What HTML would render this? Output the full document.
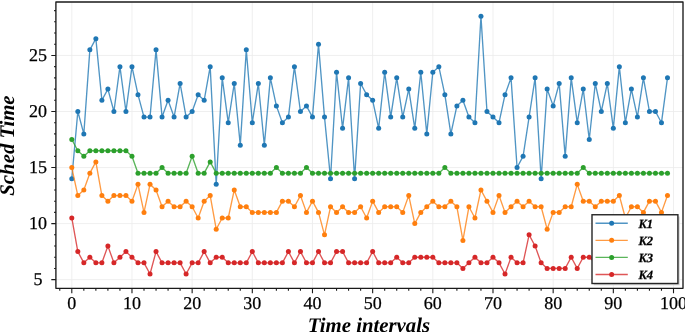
<!DOCTYPE html>
<html><head><meta charset="utf-8"><style>
html,body{margin:0;padding:0;background:#fff;}
body{width:685px;height:332px;overflow:hidden;}
svg{display:block;text-rendering:geometricPrecision;font-family:"Liberation Serif","Times New Roman",serif;fill:#000;}
svg text{fill:#000;}
.tl{stroke:#000;stroke-width:0.25px;}
</style></head><body>
<svg width="685" height="332" viewBox="0 0 685 332">
<rect width="685" height="332" fill="#fff"/>
<defs><clipPath id="c"><rect x="55.9" y="1.95" width="627.1" height="286.40000000000003"/></clipPath></defs>
<path d="M71.80 1.95V288.35M131.97 1.95V288.35M192.14 1.95V288.35M252.31 1.95V288.35M312.48 1.95V288.35M372.65 1.95V288.35M432.82 1.95V288.35M492.99 1.95V288.35M553.16 1.95V288.35M613.33 1.95V288.35M673.50 1.95V288.35M55.9 279.65H683.0M55.9 223.60H683.0M55.9 167.55H683.0M55.9 111.50H683.0M55.9 55.45H683.0" stroke="#ebebeb" stroke-width="0.8" fill="none"/>
<g clip-path="url(#c)">
<polyline points="71.80,178.76 77.82,111.50 83.83,133.92 89.85,49.84 95.87,38.63 101.88,100.29 107.90,89.08 113.92,111.50 119.94,66.66 125.95,111.50 131.97,66.66 137.99,94.68 144.00,117.10 150.02,117.10 156.04,49.84 162.06,117.10 168.07,100.29 174.09,117.10 180.11,83.47 186.12,117.10 192.14,111.50 198.16,94.68 204.17,100.29 210.19,66.66 216.21,184.36 222.23,77.87 228.24,122.71 234.26,83.47 240.28,145.13 246.29,49.84 252.31,122.71 258.33,83.47 264.34,145.13 270.36,77.87 276.38,105.89 282.39,122.71 288.41,117.10 294.43,66.66 300.45,111.50 306.46,105.89 312.48,117.10 318.50,44.24 324.51,117.10 330.53,178.76 336.55,72.26 342.57,128.31 348.58,77.87 354.60,178.76 360.62,83.47 366.63,94.68 372.65,100.29 378.67,128.31 384.68,72.26 390.70,117.10 396.72,77.87 402.74,117.10 408.75,89.08 414.77,128.31 420.79,72.26 426.80,133.92 432.82,72.26 438.84,66.66 444.85,94.68 450.87,133.92 456.89,105.89 462.91,100.29 468.92,117.10 474.94,122.71 480.96,16.21 486.97,111.50 492.99,117.10 499.01,122.71 505.02,94.68 511.04,77.87 517.06,167.55 523.08,156.34 529.09,117.10 535.11,77.87 541.13,178.76 547.14,89.08 553.16,105.89 559.18,83.47 565.19,156.34 571.21,77.87 577.23,122.71 583.25,89.08 589.26,139.52 595.28,83.47 601.30,111.50 607.31,83.47 613.33,128.31 619.35,66.66 625.36,122.71 631.38,89.08 637.40,117.10 643.41,77.87 649.43,111.50 655.45,111.50 661.47,122.71 667.48,77.87" fill="none" stroke="#1f77b4" stroke-width="1.35" stroke-opacity="0.78" stroke-linejoin="round"/>
<g fill="#1f77b4"><circle cx="71.80" cy="178.76" r="2.5"/><circle cx="77.82" cy="111.50" r="2.5"/><circle cx="83.83" cy="133.92" r="2.5"/><circle cx="89.85" cy="49.84" r="2.5"/><circle cx="95.87" cy="38.63" r="2.5"/><circle cx="101.88" cy="100.29" r="2.5"/><circle cx="107.90" cy="89.08" r="2.5"/><circle cx="113.92" cy="111.50" r="2.5"/><circle cx="119.94" cy="66.66" r="2.5"/><circle cx="125.95" cy="111.50" r="2.5"/><circle cx="131.97" cy="66.66" r="2.5"/><circle cx="137.99" cy="94.68" r="2.5"/><circle cx="144.00" cy="117.10" r="2.5"/><circle cx="150.02" cy="117.10" r="2.5"/><circle cx="156.04" cy="49.84" r="2.5"/><circle cx="162.06" cy="117.10" r="2.5"/><circle cx="168.07" cy="100.29" r="2.5"/><circle cx="174.09" cy="117.10" r="2.5"/><circle cx="180.11" cy="83.47" r="2.5"/><circle cx="186.12" cy="117.10" r="2.5"/><circle cx="192.14" cy="111.50" r="2.5"/><circle cx="198.16" cy="94.68" r="2.5"/><circle cx="204.17" cy="100.29" r="2.5"/><circle cx="210.19" cy="66.66" r="2.5"/><circle cx="216.21" cy="184.36" r="2.5"/><circle cx="222.23" cy="77.87" r="2.5"/><circle cx="228.24" cy="122.71" r="2.5"/><circle cx="234.26" cy="83.47" r="2.5"/><circle cx="240.28" cy="145.13" r="2.5"/><circle cx="246.29" cy="49.84" r="2.5"/><circle cx="252.31" cy="122.71" r="2.5"/><circle cx="258.33" cy="83.47" r="2.5"/><circle cx="264.34" cy="145.13" r="2.5"/><circle cx="270.36" cy="77.87" r="2.5"/><circle cx="276.38" cy="105.89" r="2.5"/><circle cx="282.39" cy="122.71" r="2.5"/><circle cx="288.41" cy="117.10" r="2.5"/><circle cx="294.43" cy="66.66" r="2.5"/><circle cx="300.45" cy="111.50" r="2.5"/><circle cx="306.46" cy="105.89" r="2.5"/><circle cx="312.48" cy="117.10" r="2.5"/><circle cx="318.50" cy="44.24" r="2.5"/><circle cx="324.51" cy="117.10" r="2.5"/><circle cx="330.53" cy="178.76" r="2.5"/><circle cx="336.55" cy="72.26" r="2.5"/><circle cx="342.57" cy="128.31" r="2.5"/><circle cx="348.58" cy="77.87" r="2.5"/><circle cx="354.60" cy="178.76" r="2.5"/><circle cx="360.62" cy="83.47" r="2.5"/><circle cx="366.63" cy="94.68" r="2.5"/><circle cx="372.65" cy="100.29" r="2.5"/><circle cx="378.67" cy="128.31" r="2.5"/><circle cx="384.68" cy="72.26" r="2.5"/><circle cx="390.70" cy="117.10" r="2.5"/><circle cx="396.72" cy="77.87" r="2.5"/><circle cx="402.74" cy="117.10" r="2.5"/><circle cx="408.75" cy="89.08" r="2.5"/><circle cx="414.77" cy="128.31" r="2.5"/><circle cx="420.79" cy="72.26" r="2.5"/><circle cx="426.80" cy="133.92" r="2.5"/><circle cx="432.82" cy="72.26" r="2.5"/><circle cx="438.84" cy="66.66" r="2.5"/><circle cx="444.85" cy="94.68" r="2.5"/><circle cx="450.87" cy="133.92" r="2.5"/><circle cx="456.89" cy="105.89" r="2.5"/><circle cx="462.91" cy="100.29" r="2.5"/><circle cx="468.92" cy="117.10" r="2.5"/><circle cx="474.94" cy="122.71" r="2.5"/><circle cx="480.96" cy="16.21" r="2.5"/><circle cx="486.97" cy="111.50" r="2.5"/><circle cx="492.99" cy="117.10" r="2.5"/><circle cx="499.01" cy="122.71" r="2.5"/><circle cx="505.02" cy="94.68" r="2.5"/><circle cx="511.04" cy="77.87" r="2.5"/><circle cx="517.06" cy="167.55" r="2.5"/><circle cx="523.08" cy="156.34" r="2.5"/><circle cx="529.09" cy="117.10" r="2.5"/><circle cx="535.11" cy="77.87" r="2.5"/><circle cx="541.13" cy="178.76" r="2.5"/><circle cx="547.14" cy="89.08" r="2.5"/><circle cx="553.16" cy="105.89" r="2.5"/><circle cx="559.18" cy="83.47" r="2.5"/><circle cx="565.19" cy="156.34" r="2.5"/><circle cx="571.21" cy="77.87" r="2.5"/><circle cx="577.23" cy="122.71" r="2.5"/><circle cx="583.25" cy="89.08" r="2.5"/><circle cx="589.26" cy="139.52" r="2.5"/><circle cx="595.28" cy="83.47" r="2.5"/><circle cx="601.30" cy="111.50" r="2.5"/><circle cx="607.31" cy="83.47" r="2.5"/><circle cx="613.33" cy="128.31" r="2.5"/><circle cx="619.35" cy="66.66" r="2.5"/><circle cx="625.36" cy="122.71" r="2.5"/><circle cx="631.38" cy="89.08" r="2.5"/><circle cx="637.40" cy="117.10" r="2.5"/><circle cx="643.41" cy="77.87" r="2.5"/><circle cx="649.43" cy="111.50" r="2.5"/><circle cx="655.45" cy="111.50" r="2.5"/><circle cx="661.47" cy="122.71" r="2.5"/><circle cx="667.48" cy="77.87" r="2.5"/></g>
<polyline points="71.80,167.55 77.82,195.57 83.83,189.97 89.85,173.15 95.87,161.94 101.88,195.57 107.90,201.18 113.92,195.57 119.94,195.57 125.95,195.57 131.97,201.18 137.99,184.36 144.00,212.39 150.02,184.36 156.04,189.97 162.06,206.78 168.07,201.18 174.09,206.78 180.11,206.78 186.12,201.18 192.14,206.78 198.16,217.99 204.17,201.18 210.19,195.57 216.21,229.20 222.23,217.99 228.24,217.99 234.26,189.97 240.28,206.78 246.29,206.78 252.31,212.39 258.33,212.39 264.34,212.39 270.36,212.39 276.38,212.39 282.39,201.18 288.41,201.18 294.43,206.78 300.45,195.57 306.46,212.39 312.48,201.18 318.50,212.39 324.51,234.81 330.53,206.78 336.55,212.39 342.57,206.78 348.58,212.39 354.60,212.39 360.62,206.78 366.63,217.99 372.65,201.18 378.67,212.39 384.68,206.78 390.70,206.78 396.72,206.78 402.74,212.39 408.75,195.57 414.77,223.60 420.79,212.39 426.80,206.78 432.82,201.18 438.84,206.78 444.85,206.78 450.87,201.18 456.89,206.78 462.91,240.41 468.92,206.78 474.94,217.99 480.96,189.97 486.97,201.18 492.99,212.39 499.01,195.57 505.02,212.39 511.04,206.78 517.06,201.18 523.08,206.78 529.09,201.18 535.11,206.78 541.13,206.78 547.14,229.20 553.16,212.39 559.18,212.39 565.19,206.78 571.21,206.78 577.23,184.36 583.25,201.18 589.26,201.18 595.28,206.78 601.30,201.18 607.31,201.18 613.33,201.18 619.35,195.57 625.36,217.99 631.38,206.78 637.40,206.78 643.41,212.39 649.43,201.18 655.45,201.18 661.47,212.39 667.48,195.57" fill="none" stroke="#ff7f0e" stroke-width="1.35" stroke-opacity="0.78" stroke-linejoin="round"/>
<g fill="#ff7f0e"><circle cx="71.80" cy="167.55" r="2.5"/><circle cx="77.82" cy="195.57" r="2.5"/><circle cx="83.83" cy="189.97" r="2.5"/><circle cx="89.85" cy="173.15" r="2.5"/><circle cx="95.87" cy="161.94" r="2.5"/><circle cx="101.88" cy="195.57" r="2.5"/><circle cx="107.90" cy="201.18" r="2.5"/><circle cx="113.92" cy="195.57" r="2.5"/><circle cx="119.94" cy="195.57" r="2.5"/><circle cx="125.95" cy="195.57" r="2.5"/><circle cx="131.97" cy="201.18" r="2.5"/><circle cx="137.99" cy="184.36" r="2.5"/><circle cx="144.00" cy="212.39" r="2.5"/><circle cx="150.02" cy="184.36" r="2.5"/><circle cx="156.04" cy="189.97" r="2.5"/><circle cx="162.06" cy="206.78" r="2.5"/><circle cx="168.07" cy="201.18" r="2.5"/><circle cx="174.09" cy="206.78" r="2.5"/><circle cx="180.11" cy="206.78" r="2.5"/><circle cx="186.12" cy="201.18" r="2.5"/><circle cx="192.14" cy="206.78" r="2.5"/><circle cx="198.16" cy="217.99" r="2.5"/><circle cx="204.17" cy="201.18" r="2.5"/><circle cx="210.19" cy="195.57" r="2.5"/><circle cx="216.21" cy="229.20" r="2.5"/><circle cx="222.23" cy="217.99" r="2.5"/><circle cx="228.24" cy="217.99" r="2.5"/><circle cx="234.26" cy="189.97" r="2.5"/><circle cx="240.28" cy="206.78" r="2.5"/><circle cx="246.29" cy="206.78" r="2.5"/><circle cx="252.31" cy="212.39" r="2.5"/><circle cx="258.33" cy="212.39" r="2.5"/><circle cx="264.34" cy="212.39" r="2.5"/><circle cx="270.36" cy="212.39" r="2.5"/><circle cx="276.38" cy="212.39" r="2.5"/><circle cx="282.39" cy="201.18" r="2.5"/><circle cx="288.41" cy="201.18" r="2.5"/><circle cx="294.43" cy="206.78" r="2.5"/><circle cx="300.45" cy="195.57" r="2.5"/><circle cx="306.46" cy="212.39" r="2.5"/><circle cx="312.48" cy="201.18" r="2.5"/><circle cx="318.50" cy="212.39" r="2.5"/><circle cx="324.51" cy="234.81" r="2.5"/><circle cx="330.53" cy="206.78" r="2.5"/><circle cx="336.55" cy="212.39" r="2.5"/><circle cx="342.57" cy="206.78" r="2.5"/><circle cx="348.58" cy="212.39" r="2.5"/><circle cx="354.60" cy="212.39" r="2.5"/><circle cx="360.62" cy="206.78" r="2.5"/><circle cx="366.63" cy="217.99" r="2.5"/><circle cx="372.65" cy="201.18" r="2.5"/><circle cx="378.67" cy="212.39" r="2.5"/><circle cx="384.68" cy="206.78" r="2.5"/><circle cx="390.70" cy="206.78" r="2.5"/><circle cx="396.72" cy="206.78" r="2.5"/><circle cx="402.74" cy="212.39" r="2.5"/><circle cx="408.75" cy="195.57" r="2.5"/><circle cx="414.77" cy="223.60" r="2.5"/><circle cx="420.79" cy="212.39" r="2.5"/><circle cx="426.80" cy="206.78" r="2.5"/><circle cx="432.82" cy="201.18" r="2.5"/><circle cx="438.84" cy="206.78" r="2.5"/><circle cx="444.85" cy="206.78" r="2.5"/><circle cx="450.87" cy="201.18" r="2.5"/><circle cx="456.89" cy="206.78" r="2.5"/><circle cx="462.91" cy="240.41" r="2.5"/><circle cx="468.92" cy="206.78" r="2.5"/><circle cx="474.94" cy="217.99" r="2.5"/><circle cx="480.96" cy="189.97" r="2.5"/><circle cx="486.97" cy="201.18" r="2.5"/><circle cx="492.99" cy="212.39" r="2.5"/><circle cx="499.01" cy="195.57" r="2.5"/><circle cx="505.02" cy="212.39" r="2.5"/><circle cx="511.04" cy="206.78" r="2.5"/><circle cx="517.06" cy="201.18" r="2.5"/><circle cx="523.08" cy="206.78" r="2.5"/><circle cx="529.09" cy="201.18" r="2.5"/><circle cx="535.11" cy="206.78" r="2.5"/><circle cx="541.13" cy="206.78" r="2.5"/><circle cx="547.14" cy="229.20" r="2.5"/><circle cx="553.16" cy="212.39" r="2.5"/><circle cx="559.18" cy="212.39" r="2.5"/><circle cx="565.19" cy="206.78" r="2.5"/><circle cx="571.21" cy="206.78" r="2.5"/><circle cx="577.23" cy="184.36" r="2.5"/><circle cx="583.25" cy="201.18" r="2.5"/><circle cx="589.26" cy="201.18" r="2.5"/><circle cx="595.28" cy="206.78" r="2.5"/><circle cx="601.30" cy="201.18" r="2.5"/><circle cx="607.31" cy="201.18" r="2.5"/><circle cx="613.33" cy="201.18" r="2.5"/><circle cx="619.35" cy="195.57" r="2.5"/><circle cx="625.36" cy="217.99" r="2.5"/><circle cx="631.38" cy="206.78" r="2.5"/><circle cx="637.40" cy="206.78" r="2.5"/><circle cx="643.41" cy="212.39" r="2.5"/><circle cx="649.43" cy="201.18" r="2.5"/><circle cx="655.45" cy="201.18" r="2.5"/><circle cx="661.47" cy="212.39" r="2.5"/><circle cx="667.48" cy="195.57" r="2.5"/></g>
<polyline points="71.80,139.52 77.82,150.73 83.83,156.34 89.85,150.73 95.87,150.73 101.88,150.73 107.90,150.73 113.92,150.73 119.94,150.73 125.95,150.73 131.97,156.34 137.99,173.15 144.00,173.15 150.02,173.15 156.04,173.15 162.06,167.55 168.07,173.15 174.09,173.15 180.11,173.15 186.12,173.15 192.14,156.34 198.16,173.15 204.17,173.15 210.19,161.94 216.21,173.15 222.23,173.15 228.24,173.15 234.26,173.15 240.28,173.15 246.29,173.15 252.31,173.15 258.33,173.15 264.34,173.15 270.36,173.15 276.38,167.55 282.39,173.15 288.41,173.15 294.43,173.15 300.45,173.15 306.46,167.55 312.48,173.15 318.50,173.15 324.51,173.15 330.53,173.15 336.55,173.15 342.57,173.15 348.58,173.15 354.60,173.15 360.62,173.15 366.63,173.15 372.65,173.15 378.67,173.15 384.68,173.15 390.70,173.15 396.72,173.15 402.74,173.15 408.75,173.15 414.77,173.15 420.79,173.15 426.80,173.15 432.82,173.15 438.84,173.15 444.85,167.55 450.87,173.15 456.89,173.15 462.91,173.15 468.92,173.15 474.94,173.15 480.96,173.15 486.97,173.15 492.99,173.15 499.01,173.15 505.02,173.15 511.04,173.15 517.06,173.15 523.08,173.15 529.09,173.15 535.11,173.15 541.13,173.15 547.14,173.15 553.16,173.15 559.18,173.15 565.19,173.15 571.21,173.15 577.23,173.15 583.25,167.55 589.26,173.15 595.28,173.15 601.30,173.15 607.31,173.15 613.33,173.15 619.35,173.15 625.36,173.15 631.38,173.15 637.40,173.15 643.41,173.15 649.43,173.15 655.45,173.15 661.47,173.15 667.48,173.15" fill="none" stroke="#2ca02c" stroke-width="1.35" stroke-opacity="0.78" stroke-linejoin="round"/>
<g fill="#2ca02c"><circle cx="71.80" cy="139.52" r="2.5"/><circle cx="77.82" cy="150.73" r="2.5"/><circle cx="83.83" cy="156.34" r="2.5"/><circle cx="89.85" cy="150.73" r="2.5"/><circle cx="95.87" cy="150.73" r="2.5"/><circle cx="101.88" cy="150.73" r="2.5"/><circle cx="107.90" cy="150.73" r="2.5"/><circle cx="113.92" cy="150.73" r="2.5"/><circle cx="119.94" cy="150.73" r="2.5"/><circle cx="125.95" cy="150.73" r="2.5"/><circle cx="131.97" cy="156.34" r="2.5"/><circle cx="137.99" cy="173.15" r="2.5"/><circle cx="144.00" cy="173.15" r="2.5"/><circle cx="150.02" cy="173.15" r="2.5"/><circle cx="156.04" cy="173.15" r="2.5"/><circle cx="162.06" cy="167.55" r="2.5"/><circle cx="168.07" cy="173.15" r="2.5"/><circle cx="174.09" cy="173.15" r="2.5"/><circle cx="180.11" cy="173.15" r="2.5"/><circle cx="186.12" cy="173.15" r="2.5"/><circle cx="192.14" cy="156.34" r="2.5"/><circle cx="198.16" cy="173.15" r="2.5"/><circle cx="204.17" cy="173.15" r="2.5"/><circle cx="210.19" cy="161.94" r="2.5"/><circle cx="216.21" cy="173.15" r="2.5"/><circle cx="222.23" cy="173.15" r="2.5"/><circle cx="228.24" cy="173.15" r="2.5"/><circle cx="234.26" cy="173.15" r="2.5"/><circle cx="240.28" cy="173.15" r="2.5"/><circle cx="246.29" cy="173.15" r="2.5"/><circle cx="252.31" cy="173.15" r="2.5"/><circle cx="258.33" cy="173.15" r="2.5"/><circle cx="264.34" cy="173.15" r="2.5"/><circle cx="270.36" cy="173.15" r="2.5"/><circle cx="276.38" cy="167.55" r="2.5"/><circle cx="282.39" cy="173.15" r="2.5"/><circle cx="288.41" cy="173.15" r="2.5"/><circle cx="294.43" cy="173.15" r="2.5"/><circle cx="300.45" cy="173.15" r="2.5"/><circle cx="306.46" cy="167.55" r="2.5"/><circle cx="312.48" cy="173.15" r="2.5"/><circle cx="318.50" cy="173.15" r="2.5"/><circle cx="324.51" cy="173.15" r="2.5"/><circle cx="330.53" cy="173.15" r="2.5"/><circle cx="336.55" cy="173.15" r="2.5"/><circle cx="342.57" cy="173.15" r="2.5"/><circle cx="348.58" cy="173.15" r="2.5"/><circle cx="354.60" cy="173.15" r="2.5"/><circle cx="360.62" cy="173.15" r="2.5"/><circle cx="366.63" cy="173.15" r="2.5"/><circle cx="372.65" cy="173.15" r="2.5"/><circle cx="378.67" cy="173.15" r="2.5"/><circle cx="384.68" cy="173.15" r="2.5"/><circle cx="390.70" cy="173.15" r="2.5"/><circle cx="396.72" cy="173.15" r="2.5"/><circle cx="402.74" cy="173.15" r="2.5"/><circle cx="408.75" cy="173.15" r="2.5"/><circle cx="414.77" cy="173.15" r="2.5"/><circle cx="420.79" cy="173.15" r="2.5"/><circle cx="426.80" cy="173.15" r="2.5"/><circle cx="432.82" cy="173.15" r="2.5"/><circle cx="438.84" cy="173.15" r="2.5"/><circle cx="444.85" cy="167.55" r="2.5"/><circle cx="450.87" cy="173.15" r="2.5"/><circle cx="456.89" cy="173.15" r="2.5"/><circle cx="462.91" cy="173.15" r="2.5"/><circle cx="468.92" cy="173.15" r="2.5"/><circle cx="474.94" cy="173.15" r="2.5"/><circle cx="480.96" cy="173.15" r="2.5"/><circle cx="486.97" cy="173.15" r="2.5"/><circle cx="492.99" cy="173.15" r="2.5"/><circle cx="499.01" cy="173.15" r="2.5"/><circle cx="505.02" cy="173.15" r="2.5"/><circle cx="511.04" cy="173.15" r="2.5"/><circle cx="517.06" cy="173.15" r="2.5"/><circle cx="523.08" cy="173.15" r="2.5"/><circle cx="529.09" cy="173.15" r="2.5"/><circle cx="535.11" cy="173.15" r="2.5"/><circle cx="541.13" cy="173.15" r="2.5"/><circle cx="547.14" cy="173.15" r="2.5"/><circle cx="553.16" cy="173.15" r="2.5"/><circle cx="559.18" cy="173.15" r="2.5"/><circle cx="565.19" cy="173.15" r="2.5"/><circle cx="571.21" cy="173.15" r="2.5"/><circle cx="577.23" cy="173.15" r="2.5"/><circle cx="583.25" cy="167.55" r="2.5"/><circle cx="589.26" cy="173.15" r="2.5"/><circle cx="595.28" cy="173.15" r="2.5"/><circle cx="601.30" cy="173.15" r="2.5"/><circle cx="607.31" cy="173.15" r="2.5"/><circle cx="613.33" cy="173.15" r="2.5"/><circle cx="619.35" cy="173.15" r="2.5"/><circle cx="625.36" cy="173.15" r="2.5"/><circle cx="631.38" cy="173.15" r="2.5"/><circle cx="637.40" cy="173.15" r="2.5"/><circle cx="643.41" cy="173.15" r="2.5"/><circle cx="649.43" cy="173.15" r="2.5"/><circle cx="655.45" cy="173.15" r="2.5"/><circle cx="661.47" cy="173.15" r="2.5"/><circle cx="667.48" cy="173.15" r="2.5"/></g>
<polyline points="71.80,217.99 77.82,251.62 83.83,262.83 89.85,257.23 95.87,262.83 101.88,262.83 107.90,246.02 113.92,262.83 119.94,257.23 125.95,251.62 131.97,257.23 137.99,262.83 144.00,262.83 150.02,274.04 156.04,251.62 162.06,262.83 168.07,262.83 174.09,262.83 180.11,262.83 186.12,274.04 192.14,262.83 198.16,262.83 204.17,251.62 210.19,262.83 216.21,257.23 222.23,257.23 228.24,262.83 234.26,262.83 240.28,262.83 246.29,262.83 252.31,251.62 258.33,262.83 264.34,262.83 270.36,262.83 276.38,262.83 282.39,262.83 288.41,251.62 294.43,262.83 300.45,251.62 306.46,262.83 312.48,262.83 318.50,251.62 324.51,262.83 330.53,262.83 336.55,251.62 342.57,251.62 348.58,262.83 354.60,262.83 360.62,262.83 366.63,262.83 372.65,251.62 378.67,262.83 384.68,262.83 390.70,262.83 396.72,257.23 402.74,262.83 408.75,262.83 414.77,257.23 420.79,257.23 426.80,257.23 432.82,257.23 438.84,262.83 444.85,262.83 450.87,262.83 456.89,262.83 462.91,268.44 468.92,262.83 474.94,257.23 480.96,262.83 486.97,262.83 492.99,257.23 499.01,262.83 505.02,274.04 511.04,257.23 517.06,262.83 523.08,262.83 529.09,234.81 535.11,246.02 541.13,262.83 547.14,268.44 553.16,268.44 559.18,268.44 565.19,268.44 571.21,257.23 577.23,268.44 583.25,257.23 589.26,257.23 595.28,262.83 601.30,262.83 607.31,262.83 613.33,262.83 619.35,262.83 625.36,262.83 631.38,262.83 637.40,262.83 643.41,262.83 649.43,262.83 655.45,262.83 661.47,262.83 667.48,262.83" fill="none" stroke="#d62728" stroke-width="1.35" stroke-opacity="0.78" stroke-linejoin="round"/>
<g fill="#d62728"><circle cx="71.80" cy="217.99" r="2.5"/><circle cx="77.82" cy="251.62" r="2.5"/><circle cx="83.83" cy="262.83" r="2.5"/><circle cx="89.85" cy="257.23" r="2.5"/><circle cx="95.87" cy="262.83" r="2.5"/><circle cx="101.88" cy="262.83" r="2.5"/><circle cx="107.90" cy="246.02" r="2.5"/><circle cx="113.92" cy="262.83" r="2.5"/><circle cx="119.94" cy="257.23" r="2.5"/><circle cx="125.95" cy="251.62" r="2.5"/><circle cx="131.97" cy="257.23" r="2.5"/><circle cx="137.99" cy="262.83" r="2.5"/><circle cx="144.00" cy="262.83" r="2.5"/><circle cx="150.02" cy="274.04" r="2.5"/><circle cx="156.04" cy="251.62" r="2.5"/><circle cx="162.06" cy="262.83" r="2.5"/><circle cx="168.07" cy="262.83" r="2.5"/><circle cx="174.09" cy="262.83" r="2.5"/><circle cx="180.11" cy="262.83" r="2.5"/><circle cx="186.12" cy="274.04" r="2.5"/><circle cx="192.14" cy="262.83" r="2.5"/><circle cx="198.16" cy="262.83" r="2.5"/><circle cx="204.17" cy="251.62" r="2.5"/><circle cx="210.19" cy="262.83" r="2.5"/><circle cx="216.21" cy="257.23" r="2.5"/><circle cx="222.23" cy="257.23" r="2.5"/><circle cx="228.24" cy="262.83" r="2.5"/><circle cx="234.26" cy="262.83" r="2.5"/><circle cx="240.28" cy="262.83" r="2.5"/><circle cx="246.29" cy="262.83" r="2.5"/><circle cx="252.31" cy="251.62" r="2.5"/><circle cx="258.33" cy="262.83" r="2.5"/><circle cx="264.34" cy="262.83" r="2.5"/><circle cx="270.36" cy="262.83" r="2.5"/><circle cx="276.38" cy="262.83" r="2.5"/><circle cx="282.39" cy="262.83" r="2.5"/><circle cx="288.41" cy="251.62" r="2.5"/><circle cx="294.43" cy="262.83" r="2.5"/><circle cx="300.45" cy="251.62" r="2.5"/><circle cx="306.46" cy="262.83" r="2.5"/><circle cx="312.48" cy="262.83" r="2.5"/><circle cx="318.50" cy="251.62" r="2.5"/><circle cx="324.51" cy="262.83" r="2.5"/><circle cx="330.53" cy="262.83" r="2.5"/><circle cx="336.55" cy="251.62" r="2.5"/><circle cx="342.57" cy="251.62" r="2.5"/><circle cx="348.58" cy="262.83" r="2.5"/><circle cx="354.60" cy="262.83" r="2.5"/><circle cx="360.62" cy="262.83" r="2.5"/><circle cx="366.63" cy="262.83" r="2.5"/><circle cx="372.65" cy="251.62" r="2.5"/><circle cx="378.67" cy="262.83" r="2.5"/><circle cx="384.68" cy="262.83" r="2.5"/><circle cx="390.70" cy="262.83" r="2.5"/><circle cx="396.72" cy="257.23" r="2.5"/><circle cx="402.74" cy="262.83" r="2.5"/><circle cx="408.75" cy="262.83" r="2.5"/><circle cx="414.77" cy="257.23" r="2.5"/><circle cx="420.79" cy="257.23" r="2.5"/><circle cx="426.80" cy="257.23" r="2.5"/><circle cx="432.82" cy="257.23" r="2.5"/><circle cx="438.84" cy="262.83" r="2.5"/><circle cx="444.85" cy="262.83" r="2.5"/><circle cx="450.87" cy="262.83" r="2.5"/><circle cx="456.89" cy="262.83" r="2.5"/><circle cx="462.91" cy="268.44" r="2.5"/><circle cx="468.92" cy="262.83" r="2.5"/><circle cx="474.94" cy="257.23" r="2.5"/><circle cx="480.96" cy="262.83" r="2.5"/><circle cx="486.97" cy="262.83" r="2.5"/><circle cx="492.99" cy="257.23" r="2.5"/><circle cx="499.01" cy="262.83" r="2.5"/><circle cx="505.02" cy="274.04" r="2.5"/><circle cx="511.04" cy="257.23" r="2.5"/><circle cx="517.06" cy="262.83" r="2.5"/><circle cx="523.08" cy="262.83" r="2.5"/><circle cx="529.09" cy="234.81" r="2.5"/><circle cx="535.11" cy="246.02" r="2.5"/><circle cx="541.13" cy="262.83" r="2.5"/><circle cx="547.14" cy="268.44" r="2.5"/><circle cx="553.16" cy="268.44" r="2.5"/><circle cx="559.18" cy="268.44" r="2.5"/><circle cx="565.19" cy="268.44" r="2.5"/><circle cx="571.21" cy="257.23" r="2.5"/><circle cx="577.23" cy="268.44" r="2.5"/><circle cx="583.25" cy="257.23" r="2.5"/><circle cx="589.26" cy="257.23" r="2.5"/><circle cx="595.28" cy="262.83" r="2.5"/><circle cx="601.30" cy="262.83" r="2.5"/><circle cx="607.31" cy="262.83" r="2.5"/><circle cx="613.33" cy="262.83" r="2.5"/><circle cx="619.35" cy="262.83" r="2.5"/><circle cx="625.36" cy="262.83" r="2.5"/><circle cx="631.38" cy="262.83" r="2.5"/><circle cx="637.40" cy="262.83" r="2.5"/><circle cx="643.41" cy="262.83" r="2.5"/><circle cx="649.43" cy="262.83" r="2.5"/><circle cx="655.45" cy="262.83" r="2.5"/><circle cx="661.47" cy="262.83" r="2.5"/><circle cx="667.48" cy="262.83" r="2.5"/></g>
</g>
<rect x="55.9" y="1.95" width="627.1" height="286.40000000000003" fill="none" stroke="#1a1a1a" stroke-width="1.35" stroke-linejoin="round"/>
<path d="M71.80 288.35v4.9M131.97 288.35v4.9M192.14 288.35v4.9M252.31 288.35v4.9M312.48 288.35v4.9M372.65 288.35v4.9M432.82 288.35v4.9M492.99 288.35v4.9M553.16 288.35v4.9M613.33 288.35v4.9M673.50 288.35v4.9M59.77 288.35v2.5M83.83 288.35v2.5M95.87 288.35v2.5M107.90 288.35v2.5M119.94 288.35v2.5M144.00 288.35v2.5M156.04 288.35v2.5M168.07 288.35v2.5M180.11 288.35v2.5M204.17 288.35v2.5M216.21 288.35v2.5M228.24 288.35v2.5M240.28 288.35v2.5M264.34 288.35v2.5M276.38 288.35v2.5M288.41 288.35v2.5M300.45 288.35v2.5M324.51 288.35v2.5M336.55 288.35v2.5M348.58 288.35v2.5M360.62 288.35v2.5M384.68 288.35v2.5M396.72 288.35v2.5M408.75 288.35v2.5M420.79 288.35v2.5M444.85 288.35v2.5M456.89 288.35v2.5M468.92 288.35v2.5M480.96 288.35v2.5M505.02 288.35v2.5M517.06 288.35v2.5M529.09 288.35v2.5M541.13 288.35v2.5M565.19 288.35v2.5M577.23 288.35v2.5M589.26 288.35v2.5M601.30 288.35v2.5M625.36 288.35v2.5M637.40 288.35v2.5M649.43 288.35v2.5M661.47 288.35v2.5M55.9 279.65h-4.6M55.9 223.60h-4.6M55.9 167.55h-4.6M55.9 111.50h-4.6M55.9 55.45h-4.6M55.9 268.44h-1.8M55.9 257.23h-1.8M55.9 246.02h-1.8M55.9 234.81h-1.8M55.9 212.39h-1.8M55.9 201.18h-1.8M55.9 189.97h-1.8M55.9 178.76h-1.8M55.9 156.34h-1.8M55.9 145.13h-1.8M55.9 133.92h-1.8M55.9 122.71h-1.8M55.9 100.29h-1.8M55.9 89.08h-1.8M55.9 77.87h-1.8M55.9 66.66h-1.8M55.9 44.24h-1.8M55.9 33.03h-1.8M55.9 21.82h-1.8M55.9 10.61h-1.8" stroke="#1a1a1a" stroke-width="1.1" fill="none"/>
<text transform="translate(71.80,309) scale(1.0,1)" font-size="18" text-anchor="middle" class="tl">0</text>
<text transform="translate(131.97,309) scale(1.0,1)" font-size="18" text-anchor="middle" class="tl">10</text>
<text transform="translate(192.14,309) scale(1.0,1)" font-size="18" text-anchor="middle" class="tl">20</text>
<text transform="translate(252.31,309) scale(1.0,1)" font-size="18" text-anchor="middle" class="tl">30</text>
<text transform="translate(312.48,309) scale(1.0,1)" font-size="18" text-anchor="middle" class="tl">40</text>
<text transform="translate(372.65,309) scale(1.0,1)" font-size="18" text-anchor="middle" class="tl">50</text>
<text transform="translate(432.82,309) scale(1.0,1)" font-size="18" text-anchor="middle" class="tl">60</text>
<text transform="translate(492.99,309) scale(1.0,1)" font-size="18" text-anchor="middle" class="tl">70</text>
<text transform="translate(553.16,309) scale(1.0,1)" font-size="18" text-anchor="middle" class="tl">80</text>
<text transform="translate(613.33,309) scale(1.0,1)" font-size="18" text-anchor="middle" class="tl">90</text>
<text transform="translate(673.50,309) scale(1.0,1)" font-size="18" text-anchor="middle" class="tl">100</text>
<text transform="translate(38.0,285.45) scale(1.0,1)" font-size="18" text-anchor="middle" class="tl">5</text>
<text transform="translate(38.0,229.40) scale(1.0,1)" font-size="18" text-anchor="middle" class="tl">10</text>
<text transform="translate(38.0,173.35) scale(1.0,1)" font-size="18" text-anchor="middle" class="tl">15</text>
<text transform="translate(38.0,117.30) scale(1.0,1)" font-size="18" text-anchor="middle" class="tl">20</text>
<text transform="translate(38.0,61.25) scale(1.0,1)" font-size="18" text-anchor="middle" class="tl">25</text>
<text x="368.95" y="332.4" font-size="20.8" font-weight="bold" font-style="italic" text-anchor="middle">Time intervals</text>
<text transform="translate(14.4,145.55) rotate(-90)" font-size="20.8" font-weight="bold" font-style="italic" text-anchor="middle">Sched Time</text>
<rect x="593.8" y="216.55" width="85.9" height="68.75" fill="#d4d4d4"/>
<rect x="592.0" y="214.75" width="85.9" height="68.75" fill="#fff" stroke="#262626" stroke-width="1.4"/>
<path d="M595.5 223.20H627.8" stroke="#1f77b4" stroke-width="1.35" stroke-opacity="0.78"/>
<circle cx="611.65" cy="223.20" r="2.5" fill="#1f77b4"/>
<text x="638.5" y="227.50" font-size="12.5" font-weight="bold" font-style="italic" stroke="#000" stroke-width="0.25">K1</text>
<path d="M595.5 240.30H627.8" stroke="#ff7f0e" stroke-width="1.35" stroke-opacity="0.78"/>
<circle cx="611.65" cy="240.30" r="2.5" fill="#ff7f0e"/>
<text x="638.5" y="244.60" font-size="12.5" font-weight="bold" font-style="italic" stroke="#000" stroke-width="0.25">K2</text>
<path d="M595.5 257.40H627.8" stroke="#2ca02c" stroke-width="1.35" stroke-opacity="0.78"/>
<circle cx="611.65" cy="257.40" r="2.5" fill="#2ca02c"/>
<text x="638.5" y="261.70" font-size="12.5" font-weight="bold" font-style="italic" stroke="#000" stroke-width="0.25">K3</text>
<path d="M595.5 274.50H627.8" stroke="#d62728" stroke-width="1.35" stroke-opacity="0.78"/>
<circle cx="611.65" cy="274.50" r="2.5" fill="#d62728"/>
<text x="638.5" y="278.80" font-size="12.5" font-weight="bold" font-style="italic" stroke="#000" stroke-width="0.25">K4</text>
</svg>
</body></html>
